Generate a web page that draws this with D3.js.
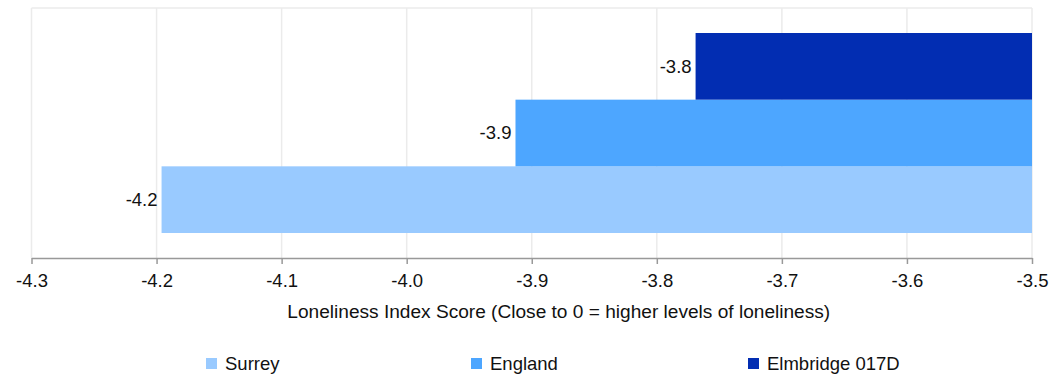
<!DOCTYPE html>
<html><head><meta charset="utf-8">
<script src="https://cdn.jsdelivr.net/npm/d3@7"></script>
<style>body{margin:0;background:#fff;}svg{display:block;font-family:"Liberation Sans",Arial,sans-serif;}</style>
</head><body>
<svg id="c" width="1061" height="374"></svg>
<script>
const series = ["Surrey", "England", "Elmbridge 017D"];
const values = [-4.196, -3.913, -3.769];
const labels = ["-4.2", "-3.9", "-3.8"];
const colors = ["#99caff", "#4da6ff", "#022db2"];
const ticks = [-4.3, -4.2, -4.1, -4.0, -3.9, -3.8, -3.7, -3.6, -3.5];
const axisTitle = "Loneliness Index Score (Close to 0 = higher levels of loneliness)";

const svg = d3.select("#c");
const L = 31.5, R = 1032, T = 8, B = 258;
const FS = 18.5;
const x = d3.scaleLinear().domain([-4.3, -3.5]).range([L, R]);
const order = series.slice().reverse();
const y = d3.scaleBand().domain(order).range([T + 25, B - 25]).padding(0);

svg.append("g").selectAll("line").data(ticks).join("line")
  .attr("x1", d => x(d)).attr("x2", d => x(d)).attr("y1", T).attr("y2", B)
  .attr("stroke", "#ebebeb").attr("stroke-width", 1.5);
svg.append("line").attr("x1", L).attr("x2", R).attr("y1", T).attr("y2", T)
  .attr("stroke", "#ebebeb").attr("stroke-width", 1.5);

const data = series.map((s, i) => ({s, v: values[i], l: labels[i], c: colors[i]}));
svg.append("g").selectAll("rect").data(data).join("rect")
  .attr("x", d => x(d.v)).attr("width", d => x(-3.5) - x(d.v))
  .attr("y", d => y(d.s)).attr("height", y.bandwidth())
  .attr("fill", d => d.c);
svg.append("g").selectAll("text").data(data).join("text")
  .attr("x", d => x(d.v) - 4).attr("y", d => y(d.s) + y.bandwidth() / 2)
  .attr("dy", "0.35em").attr("text-anchor", "end")
  .attr("font-size", FS).attr("fill", "#111").text(d => d.l);

const fmt = d => d3.format(".1f")(d).replace("\u2212", "-");
const ax = svg.append("g").attr("transform", `translate(0,${B})`)
  .call(d3.axisBottom(x).tickValues(ticks).tickFormat(fmt).tickSize(6).tickSizeOuter(0));
ax.select(".domain").attr("stroke", "#999").attr("stroke-width", 1.5);
ax.selectAll(".tick line").attr("stroke", "#999").attr("stroke-width", 1.5);
ax.selectAll(".tick text").attr("font-size", FS).attr("fill", "#111")
  .attr("font-family", '"Liberation Sans",Arial,sans-serif').attr("y", 23).attr("dy", "0.35em");

svg.append("text").attr("x", (L + R) / 2 + 27).attr("y", 311).attr("dy", "0.35em").attr("text-anchor", "middle")
  .attr("font-size", 19.1).attr("fill", "#111").text(axisTitle);

const lx = [206, 471, 748];
const lg = svg.append("g").selectAll("g").data(data).join("g")
  .attr("transform", (d, i) => `translate(${lx[i]},358)`);
lg.append("rect").attr("width", 11).attr("height", 11).attr("fill", d => d.c);
lg.append("text").attr("x", 19).attr("y", 5.5).attr("dy", "0.35em")
  .attr("font-size", FS).attr("fill", "#111").text(d => d.s);
</script>
</body></html>
